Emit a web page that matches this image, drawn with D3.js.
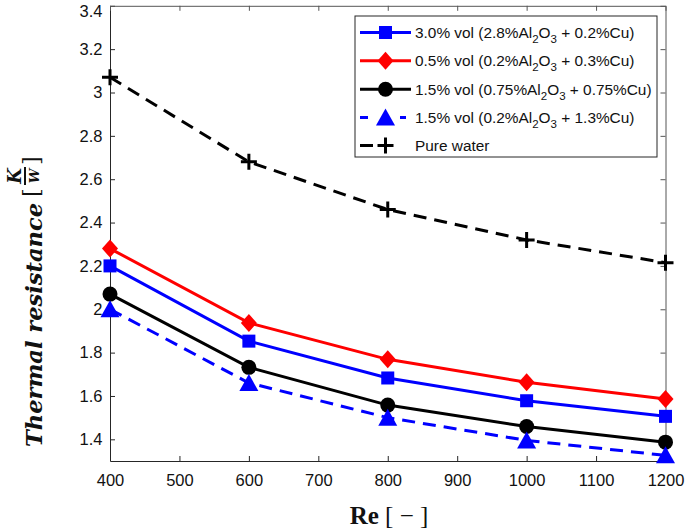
<!DOCTYPE html>
<html><head><meta charset="utf-8">
<script src="https://cdn.jsdelivr.net/npm/d3@7"></script>
<style>body{margin:0;background:#fff}svg{display:block}</style>
</head><body>
<svg id="c" width="685" height="532"></svg>
<script>
// ---- data ----
const reynolds = [400, 600, 800, 1000, 1200];
const mix30 = [2.20, 1.853, 1.683, 1.578, 1.506];   // 3.0% vol blue squares
const mix05 = [2.28, 1.937, 1.769, 1.663, 1.586];   // 0.5% vol red diamonds
const mix15a = [2.07, 1.732, 1.558, 1.459, 1.387];  // 1.5% vol black circles
const mix15b = [2.00, 1.660, 1.500, 1.395, 1.326];  // 1.5% vol blue triangles dashed
const water = [3.07, 2.680, 2.460, 2.320, 2.215];   // pure water
const xTicks = [400, 500, 600, 700, 800, 900, 1000, 1100, 1200];
const yTicks = [1.4, 1.6, 1.8, 2.0, 2.2, 2.4, 2.6, 2.8, 3.0, 3.2, 3.4];
const legendLabels = [
  ["3.0% vol (2.8%Al", "2", "O", "3", " + 0.2%Cu)"],
  ["0.5% vol (0.2%Al", "2", "O", "3", " + 0.3%Cu)"],
  ["1.5% vol (0.75%Al", "2", "O", "3", " + 0.75%Cu)"],
  ["1.5% vol (0.2%Al", "2", "O", "3", " + 1.3%Cu)"],
  ["Pure water"]
];

const series = [
  {vals: mix30, color: "#0000ff", marker: "square", dash: null},
  {vals: mix05, color: "#ff0000", marker: "diamond", dash: null},
  {vals: mix15a, color: "#000000", marker: "circle", dash: null},
  {vals: mix15b, color: "#0000ff", marker: "triangle", dash: "13,8"},
  {vals: water, color: "#000000", marker: "plus", dash: "13,8"}
];

const svg = d3.select("#c");
const L = 110, R = 665.5, T = 5.8, B = 461;
const x = d3.scaleLinear().domain([400, 1200]).range([L, R]);
const y = d3.scaleLinear().domain([1.3, 3.4]).range([B, T]);

// axes box
const axCol = "#262626";
const gx = svg.append("g").attr("transform", `translate(0,${B})`)
  .call(d3.axisBottom(x).tickValues(xTicks).tickSizeInner(-5).tickSizeOuter(0).tickPadding(13).tickFormat(d3.format("d")));
const gy = svg.append("g").attr("transform", `translate(${L},0)`)
  .call(d3.axisLeft(y).tickValues(yTicks).tickSizeInner(-5).tickSizeOuter(0).tickPadding(7.5).tickFormat(d => d3.format("~g")(d)));
const gt = svg.append("g").attr("transform", `translate(0,${T})`)
  .call(d3.axisTop(x).tickValues(xTicks).tickSizeInner(-5).tickSizeOuter(0).tickFormat(""));
const gr = svg.append("g").attr("transform", `translate(${R},0)`)
  .call(d3.axisRight(y).tickValues(yTicks).tickSizeInner(-5).tickSizeOuter(0).tickFormat(""));
[gx, gy].forEach(g => {
  g.selectAll("path,line").attr("stroke", axCol).attr("stroke-width", 1);
  g.selectAll("text").attr("fill", "#111").style("font-family", "'Liberation Sans', Arial, sans-serif").style("font-size", "16.5px");
});
// keep the top label inside the picture, as in the reference
gy.selectAll(".tick").filter(d => d === 3.4).select("text").attr("dy", "0.62em");
[gt, gr].forEach(g => g.selectAll("path,line").attr("stroke", "#555").attr("stroke-width", 1));

// marker drawing
function drawMarker(g, type, cx, cy, color) {
  if (type === "square") {
    g.append("rect").attr("x", cx - 6.5).attr("y", cy - 6.5).attr("width", 13).attr("height", 13).attr("fill", color);
  } else if (type === "diamond") {
    g.append("path").attr("d", `M${cx},${cy-9}L${cx+8},${cy}L${cx},${cy+9}L${cx-8},${cy}Z`).attr("fill", color);
  } else if (type === "circle") {
    g.append("circle").attr("cx", cx).attr("cy", cy).attr("r", 7.5).attr("fill", color);
  } else if (type === "triangle") {
    g.append("path").attr("d", `M${cx},${cy-9}L${cx+9.5},${cy+8}L${cx-9.5},${cy+8}Z`).attr("fill", color);
  } else if (type === "plus") {
    g.append("path").attr("d", `M${cx-8},${cy}L${cx+8},${cy}M${cx},${cy-8}L${cx},${cy+8}`)
      .attr("stroke", color).attr("stroke-width", 3).attr("fill", "none");
  }
}

const line = d3.line().x((d, i) => x(reynolds[i])).y(d => y(d));
const plot = svg.append("g");
series.forEach(s => {
  plot.append("path").datum(s.vals).attr("d", line)
    .attr("fill", "none").attr("stroke", s.color).attr("stroke-width", 3)
    .attr("stroke-dasharray", s.dash);
  s.vals.forEach((v, i) => drawMarker(plot, s.marker, x(reynolds[i]), y(v), s.color));
});

// legend
const lg = svg.append("g");
const lx = 355, ly = 16, lw = 302, lh = 141;
lg.append("rect").attr("x", lx).attr("y", ly).attr("width", lw).attr("height", lh)
  .attr("fill", "#fff").attr("stroke", "#262626").attr("stroke-width", 1);
const rowY = [32.5, 60.8, 89.2, 117.5, 145.5];
series.forEach((s, i) => {
  const yy = rowY[i];
  if (s.marker === "triangle") {
    lg.append("line").attr("x1", 360).attr("x2", 368).attr("y1", yy).attr("y2", yy).attr("stroke", s.color).attr("stroke-width", 3);
    lg.append("line").attr("x1", 400).attr("x2", 406).attr("y1", yy).attr("y2", yy).attr("stroke", s.color).attr("stroke-width", 3);
  } else if (s.marker === "plus") {
    lg.append("line").attr("x1", 360).attr("x2", 373).attr("y1", yy).attr("y2", yy).attr("stroke", s.color).attr("stroke-width", 3);
  } else {
    lg.append("line").attr("x1", 360).attr("x2", 411).attr("y1", yy).attr("y2", yy).attr("stroke", s.color).attr("stroke-width", 3);
  }
  drawMarker(lg, s.marker, 385.5, yy, s.color);
  const t = lg.append("text").attr("x", 415).attr("y", yy + 5.5)
    .style("font-family", "'Liberation Sans', Arial, sans-serif").style("font-size", "15.4px").attr("fill", "#111");
  const parts = legendLabels[i];
  if (parts.length === 1) {
    t.text(parts[0]);
  } else {
    t.append("tspan").text(parts[0]);
    t.append("tspan").attr("dy", 5).style("font-size", "11.5px").text(parts[1]);
    t.append("tspan").attr("dy", -5).text(parts[2]);
    t.append("tspan").attr("dy", 5).style("font-size", "11.5px").text(parts[3]);
    t.append("tspan").attr("dy", -5).text(parts[4]);
  }
});

// x label
const xl = svg.append("text").attr("x", 389).attr("y", 524).attr("text-anchor", "middle")
  .style("font-family", "'Liberation Serif', 'Times New Roman', serif").style("font-size", "25px").attr("fill", "#111");
xl.append("tspan").style("font-weight", "bold").text("Re");
xl.append("tspan").text(" [ \u2212 ]");

// y label
const yl = svg.append("g").attr("transform", "translate(42,447) rotate(-90)");
yl.append("text").attr("x", 0).attr("y", 0)
  .style("font-family", "'DejaVu Serif', serif").style("font-size", "22px")
  .style("font-weight", "bold").style("font-style", "italic").attr("fill", "#111")
  .attr("textLength", 244).attr("lengthAdjust", "spacingAndGlyphs")
  .text("Thermal resistance");
yl.append("text").attr("x", 250).attr("y", -3)
  .style("font-family", "'DejaVu Serif', serif").style("font-size", "22px").attr("fill", "#111").text("[");
yl.append("text").attr("x", 282).attr("y", -3)
  .style("font-family", "'DejaVu Serif', serif").style("font-size", "22px").attr("fill", "#111").text("]");
yl.append("line").attr("x1", 262).attr("x2", 280).attr("y1", -17).attr("y2", -17).attr("stroke", "#111").attr("stroke-width", 2);
yl.append("text").attr("x", 271).attr("y", -21).attr("text-anchor", "middle")
  .style("font-family", "'DejaVu Serif', serif").style("font-size", "18px")
  .style("font-weight", "bold").style("font-style", "italic").attr("fill", "#111").text("K");
yl.append("text").attr("x", 271).attr("y", -3).attr("text-anchor", "middle")
  .style("font-family", "'DejaVu Serif', serif").style("font-size", "13px")
  .style("font-weight", "bold").style("font-style", "italic").attr("fill", "#111").text("W");
</script>
</body></html>
